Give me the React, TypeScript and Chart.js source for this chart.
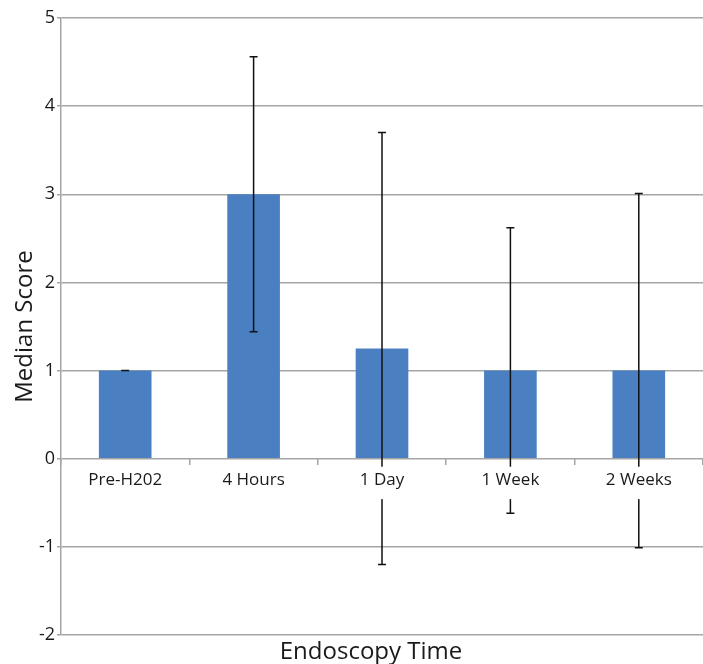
import React, { useEffect, useRef } from "react";
import { Chart, registerables } from "chart.js";

Chart.register(...registerables);

const categories = ["Pre-H202", "4 Hours", "1 Day", "1 Week", "2 Weeks"];
const medians = [1, 3, 1.25, 1, 1];
const errors = [0, 1.56, 2.45, 1.62, 2.01];
const yMin = -2;
const yMax = 5;
const yStep = 1;
const yTitle = "Median Score";
const xTitle = "Endoscopy Time";

const FONT = "'Open Sans', 'Noto Sans', sans-serif";
const GRID = "rgb(165,165,165)";
const BAR = "#4a80c2";
const TEXT = "#1a1a1a";

const errorBarPlugin = {
  id: "errorBars",
  afterDatasetsDraw(chart: any) {
    const meta = chart.getDatasetMeta(0);
    const y = chart.scales.y;
    const ctx = chart.ctx;
    ctx.save();
    ctx.strokeStyle = "#111";
    ctx.lineWidth = 1.5;
    meta.data.forEach((bar: any, i: number) => {
      const x = bar.x;
      const top = y.getPixelForValue(medians[i] + errors[i]);
      const bot = y.getPixelForValue(medians[i] - errors[i]);
      ctx.beginPath();
      ctx.moveTo(x, top);
      ctx.lineTo(x, bot);
      ctx.moveTo(x - 4, top);
      ctx.lineTo(x + 4, top);
      ctx.moveTo(x - 4, bot);
      ctx.lineTo(x + 4, bot);
      ctx.stroke();
    });
    ctx.restore();
  },
};

const xTitlePlugin = {
  id: "xTitle",
  afterDraw(chart: any) {
    const ctx = chart.ctx;
    ctx.save();
    ctx.fillStyle = TEXT;
    ctx.font = `24px ${FONT}`;
    ctx.textAlign = "center";
    ctx.textBaseline = "middle";
    ctx.fillText(xTitle, 371, chart.chartArea.bottom + 17);
    ctx.restore();
  },
};

export default function App() {
  const ref = useRef<HTMLCanvasElement>(null);
  useEffect(() => {
    if (!ref.current) return;
    const chart = new Chart(ref.current, {
      type: "bar",
      data: {
        labels: categories,
        datasets: [
          {
            data: medians,
            backgroundColor: BAR,
            borderWidth: 0,
            barPercentage: 0.41,
            categoryPercentage: 1,
          },
        ],
      },
      options: {
        responsive: false,
        animation: false,
        layout: { padding: { top: 18, right: 0, bottom: 29, left: 0 } },
        plugins: {
          legend: { display: false },
          tooltip: { enabled: false },
          title: { display: false },
        },
        scales: {
          x: {
            position: { y: 0 } as any,
            grid: {
              display: true,
              drawOnChartArea: false,
              drawTicks: true,
              tickLength: 6,
              color: GRID,
              lineWidth: 1.5,
              offset: true,
            },
            border: { display: false },
            ticks: {
              z: 1,
              color: TEXT,
              font: { family: FONT, size: 17 },
              padding: 5,
              showLabelBackdrop: true,
              backdropColor: "#ffffff",
              backdropPadding: { top: 3, bottom: 9, left: 2, right: 2 },
            } as any,
          },
          y: {
            min: yMin,
            max: yMax,
            grid: { color: GRID, lineWidth: 1.5, tickLength: 4 },
            border: { color: GRID, width: 1.5 },
            ticks: {
              stepSize: yStep,
              color: TEXT,
              font: { family: FONT, size: 18 },
              padding: 2,
            },
            title: {
              display: true,
              text: yTitle,
              color: TEXT,
              font: { family: FONT, size: 24 },
              padding: { top: 11, bottom: 0 },
            },
            afterFit: (scale: any) => {
              scale.width = 61;
            },
          },
        },
      },
      plugins: [errorBarPlugin, xTitlePlugin],
    });
    return () => chart.destroy();
  }, []);
  return (
    <div style={{ position: "absolute", left: 0, top: 0, width: 703, height: 664, background: "#fff" }}>
      <canvas ref={ref} width={703} height={664} />
    </div>
  );
}
